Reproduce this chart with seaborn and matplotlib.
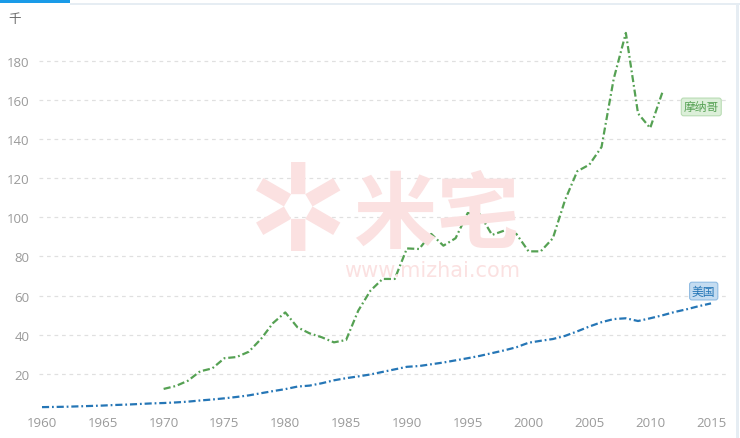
import numpy as np
import pandas as pd
import matplotlib
matplotlib.use("Agg")
import matplotlib.pyplot as plt
import seaborn as sns
from matplotlib.patches import Rectangle

years_us = list(range(1960, 2016))
us = [3.0, 3.1, 3.2, 3.4, 3.6, 3.8, 4.1, 4.3, 4.6, 4.9,
      5.1, 5.4, 5.8, 6.4, 6.9, 7.5, 8.2, 9.0, 10.1, 11.2,
      12.2, 13.5, 14.0, 15.2, 16.7, 17.8, 18.7, 19.7, 21.0, 22.3,
      23.6, 24.0, 24.9, 25.8, 26.9, 28.0, 29.2, 30.6, 32.0, 33.6,
      35.9, 36.9, 37.8, 39.4, 41.7, 44.2, 46.4, 48.0, 48.4, 47.0,
      48.4, 49.9, 51.6, 53.0, 54.6, 56.0]

years_mc = list(range(1970, 2012))
monaco = [12.3, 13.8, 16.5, 21.3, 22.8, 28.0, 28.6, 31.3, 37.8, 46.0,
          51.4, 43.8, 40.7, 38.7, 36.1, 37.3, 52.3, 62.5, 68.5, 68.5,
          84.1, 83.8, 91.5, 85.5, 89.3, 102.2, 101.5, 91.0, 93.2, 91.5,
          82.6, 82.6, 89.3, 108.8, 123.5, 126.9, 135.9, 170.7, 194.2, 153.1,
          145.6, 163.8]

series_names = ["摩纳哥", "美国"]
y_ticks = [20, 40, 60, 80, 100, 120, 140, 160, 180]
x_ticks = [1960, 1965, 1970, 1975, 1980, 1985, 1990, 1995, 2000, 2005, 2010, 2015]
unit_label = "千"

df = pd.concat([
    pd.DataFrame({"year": years_mc, "value": monaco, "country": series_names[0]}),
    pd.DataFrame({"year": years_us, "value": us, "country": series_names[1]}),
])

sns.set_theme(style="white")
plt.rcParams['font.family'] = ['Open Sans', 'Noto Sans CJK SC', 'DejaVu Sans']

W, H = 740, 439
fig = plt.figure(figsize=(W / 100, H / 100), dpi=100)
left_px, right_px, top_px, bot_px = 39, 728, 30, 410
ax = fig.add_axes([left_px / W, 1 - bot_px / H, (right_px - left_px) / W, (bot_px - top_px) / H])

green = "#55a153"
blue = "#2576b6"
palette = {series_names[0]: green, series_names[1]: blue}

wm = "#fbe1e1"
# watermark
fig.text(298 / W, 1 - 218 / H, "✲", fontsize=88, color=wm, ha="center", va="center",
         family="DejaVu Sans", zorder=0)
fig.text(436 / W, 1 - 218 / H, "米宅", fontsize=60, color=wm, ha="center", va="center",
         family="Noto Sans CJK SC", fontweight="bold", zorder=0)
fig.text(432 / W, 1 - 271 / H, "www.mizhai.com", fontsize=15, color=wm, ha="center",
         va="center", family="DejaVu Sans", zorder=0)

sns.lineplot(data=df, x="year", y="value", hue="country", palette=palette, ax=ax,
             linewidth=1.6, legend=False, zorder=3)
for ln in ax.get_lines():
    ln.set_dashes([3.2, 1.3, 0.8, 1.3])

x0 = 1960 - (42 - left_px) / 12.164
x1 = 2015 + (right_px - 711) / 12.164
ax.set_xlim(x0, x1)
ax.set_ylim((414 - bot_px) / 1.957, (414 - top_px) / 1.957)
ax.set_yticks(y_ticks)
ax.set_xticks(x_ticks)
ax.set_xticklabels([str(v) for v in x_ticks])
ax.set_yticklabels([str(v) for v in y_ticks])
ax.grid(axis="y", color="#e0e0e0", linestyle=(0, (3, 3)), linewidth=0.9)
ax.grid(axis="x", visible=False)
for s in ax.spines.values():
    s.set_visible(False)
ax.tick_params(axis="y", length=0, labelsize=9.5, labelcolor="#9a9a9a", pad=7)
ax.tick_params(axis="x", length=3, width=0.8, color="#cccccc", labelsize=9.5,
               labelcolor="#9a9a9a", pad=2, direction="out")
ax.set_xlabel("")
ax.set_ylabel("")
ax.patch.set_alpha(0)

fig.text(15 / W, 1 - 20 / H, unit_label, fontsize=9, color="#666666", ha="center", va="center",
         family="Noto Sans CJK SC")

# series labels
ax.annotate(series_names[0], xy=(2014.2, 156.4), fontsize=8.5, color=green, ha="center", va="center",
            family="Noto Sans CJK SC",
            bbox=dict(boxstyle="round,pad=0.2", fc="#dcefd9", ec="#b9dcb4", lw=0.8))
ax.annotate(series_names[1], xy=(2014.4, 62.3), fontsize=8.5, color=blue, ha="center", va="center",
            family="Noto Sans CJK SC",
            bbox=dict(boxstyle="round,pad=0.2", fc="#c4dcf1", ec="#8fbbe2", lw=0.8))

# top tab bar and right border
fig.add_artist(Rectangle((0, 1 - 4 / H), 70 / W, 4 / H, transform=fig.transFigure,
                         fc="#1a9be8", ec="none"))
fig.add_artist(Rectangle((70 / W, 1 - 6 / H), (W - 70) / W, 2 / H, transform=fig.transFigure,
                         fc="#e6edf3", ec="none"))
fig.add_artist(Rectangle((736 / W, 0), 3 / W, 1 - 6 / H, transform=fig.transFigure,
                         fc="#e6edf3", ec="none"))

fig.savefig("out.png", dpi=100)
